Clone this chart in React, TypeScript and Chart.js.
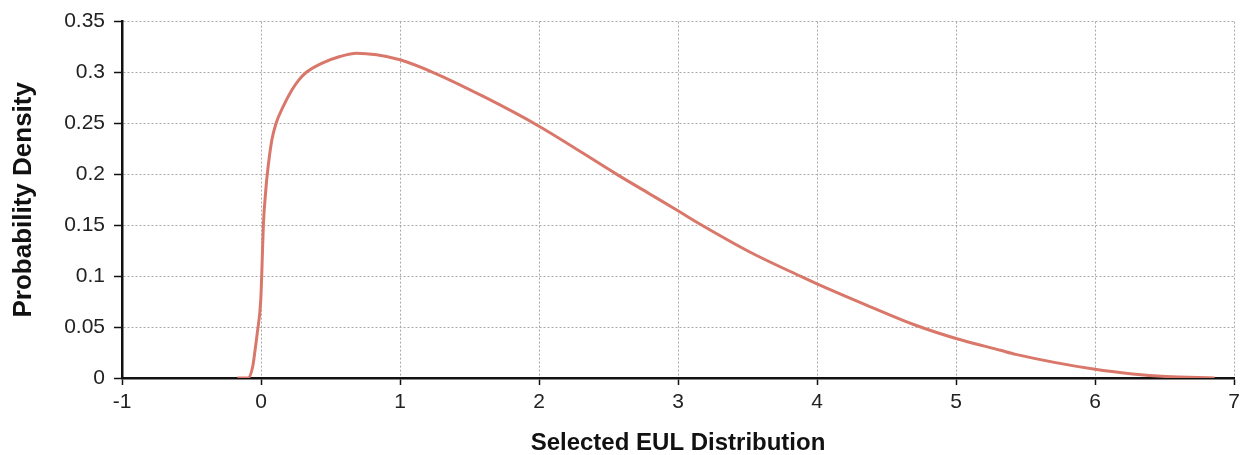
import React, { useEffect, useRef } from "react";
import { Chart, registerables } from "chart.js";

Chart.register(...registerables);

const xValues = [
  -0.17, -0.094, -0.06, -0.043, -0.027, -0.002, 0.005, 0.017, 0.036, 0.045, 0.077, 0.108,
  0.16, 0.22, 0.27, 0.324, 0.436, 0.568, 0.688, 0.832, 1.0, 1.24, 1.6, 2.0, 2.56, 2.8,
  3.0, 3.16, 3.52, 3.88, 4.0, 4.36, 4.71, 5.0, 5.32, 5.43, 6.0, 6.27, 6.51, 6.86,
];
const densityValues = [
  0, 0, 0.011, 0.027, 0.044, 0.076, 0.1, 0.15, 0.187, 0.2, 0.233, 0.25,
  0.2667, 0.2823, 0.2923, 0.3, 0.309, 0.3157, 0.319, 0.3174, 0.3125, 0.3, 0.2765, 0.2473, 0.2, 0.1805,
  0.1642, 0.151, 0.1235, 0.1, 0.0925, 0.0714, 0.0518, 0.0388, 0.0272, 0.0232, 0.0085, 0.004, 0.0015, 0,
];
const xTickLabels = ["-1", "0", "1", "2", "3", "4", "5", "6", "7"];
const yTickLabels = ["0", "0.05", "0.1", "0.15", "0.2", "0.25", "0.3", "0.35"];

export default function App() {
  const ref = useRef<HTMLCanvasElement | null>(null);
  useEffect(() => {
    document.body.style.margin = "0";
    const canvas = ref.current!;
    const chart = new Chart(canvas, {
      type: "line",
      data: {
        datasets: [
          {
            data: xValues.map((x, i) => ({ x, y: densityValues[i] })),
            borderColor: "#d9786a",
            borderWidth: 3,
            pointRadius: 0,
            fill: false,
            cubicInterpolationMode: "monotone",
          },
        ],
      },
      options: {
        animation: false,
        responsive: false,
        maintainAspectRatio: false,
        layout: { padding: { top: 20, right: 17, left: 0, bottom: 0 } },
        plugins: { legend: { display: false }, tooltip: { enabled: false } },
        scales: {
          x: {
            type: "linear",
            min: -1,
            max: 7,
            afterFit: (axis: any) => {
              axis.height = 77;
            },
            afterBuildTicks: (axis: any) => {
              axis.ticks = xTickLabels.map((l) => ({ value: Number(l) }));
            },
            ticks: {
              stepSize: 1,
              color: "#222",
              padding: 5,
              font: { family: "Liberation Sans, Arial", size: 21 },
              callback: (v: any) => xTickLabels.find((l) => Number(l) === v) ?? "",
            },
            grid: {
              color: "#a8a8a8",
              lineWidth: 1,
              tickLength: 7,
              tickColor: "#111",
              tickWidth: 1.5,
              tickBorderDash: [],
            },
            border: { display: true, color: "#111", width: 2.5, dash: [2, 2] },
            title: {
              display: true,
              text: "Selected EUL Distribution",
              color: "#111",
              padding: { top: 0, bottom: 0 },
              font: { family: "Liberation Sans, Arial", size: 24, weight: "bold", lineHeight: 1.0 },
            },
          },
          y: {
            type: "linear",
            min: 0,
            max: 0.35,
            afterFit: (axis: any) => {
              axis.width = 122;
            },
            afterBuildTicks: (axis: any) => {
              axis.ticks = yTickLabels.map((l) => ({ value: Number(l) }));
            },
            ticks: {
              stepSize: 0.05,
              color: "#222",
              padding: 9,
              font: { family: "Liberation Sans, Arial", size: 21 },
              callback: (v: any) =>
                yTickLabels.find((l) => Math.abs(Number(l) - v) < 1e-9) ?? "",
            },
            grid: {
              color: "#a8a8a8",
              lineWidth: 1,
              tickLength: 8,
              tickColor: "#111",
              tickWidth: 1.5,
              tickBorderDash: [],
            },
            border: { display: true, color: "#111", width: 2.5, dash: [2, 2] },
            title: {
              display: true,
              text: "Probability Density",
              color: "#111",
              padding: { top: 8, bottom: 0 },
              font: { family: "Liberation Sans, Arial", size: 26, weight: "bold" },
            },
          },
        },
      },
    });
    return () => chart.destroy();
  }, []);
  return <canvas ref={ref} width={1251} height={455} style={{ display: "block" }} />;
}
